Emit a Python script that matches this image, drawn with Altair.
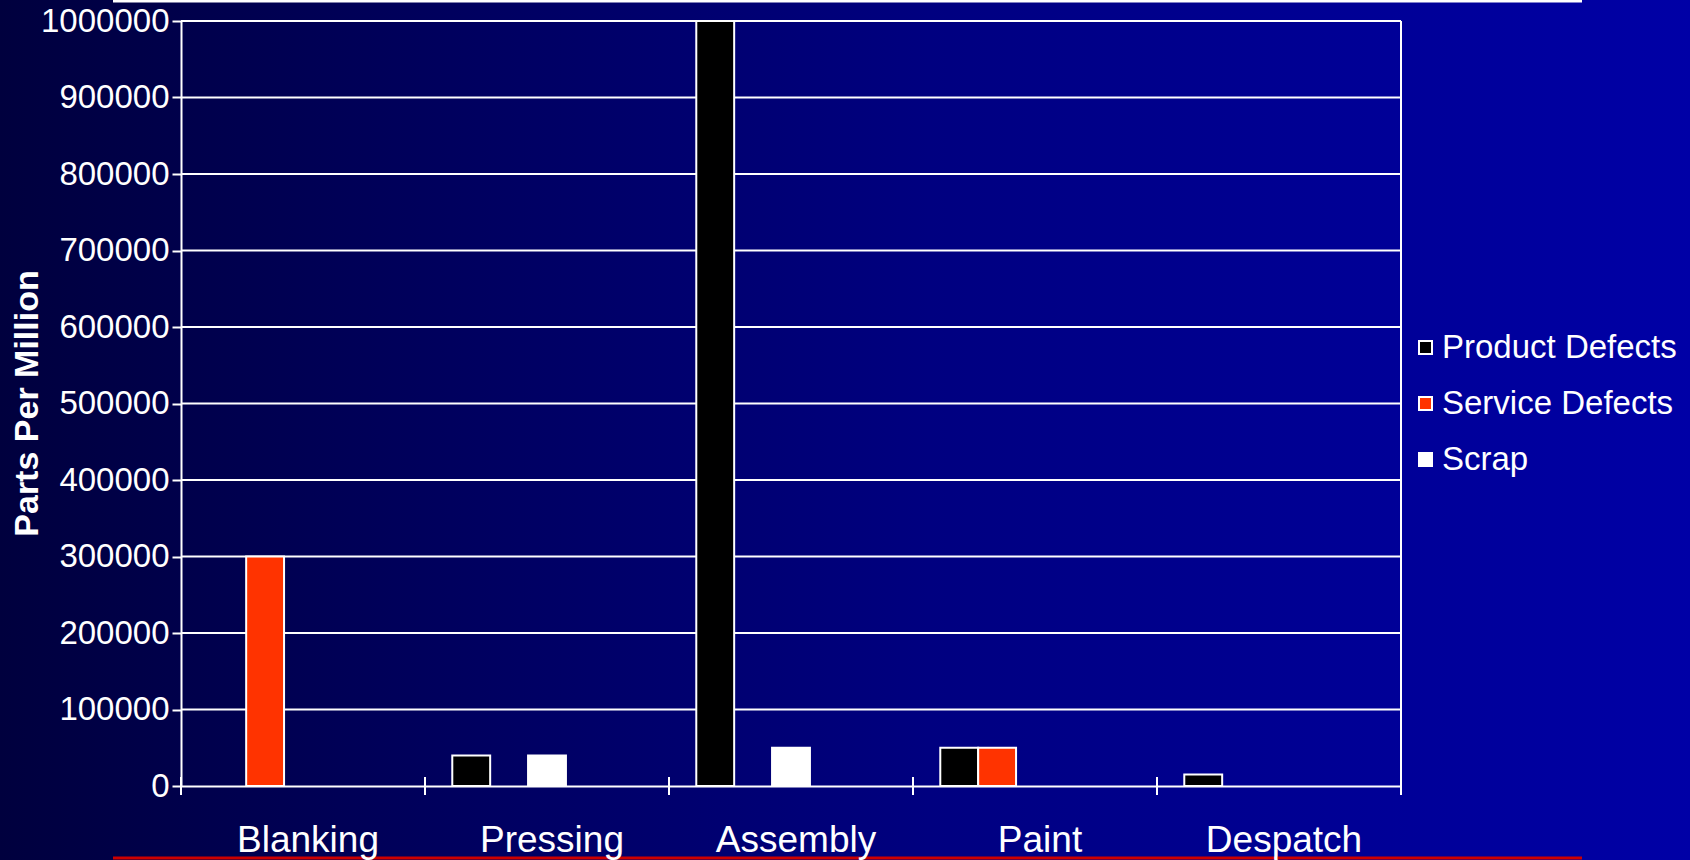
import altair as alt
import pandas as pd

categories = ["Blanking", "Pressing", "Assembly", "Paint", "Despatch"]
series = ["Product Defects", "Service Defects", "Scrap"]
product_defects = [0, 40000, 1000000, 50000, 15000]
service_defects = [300000, 0, 0, 50000, 0]
scrap = [0, 40000, 50000, 0, 0]
y_ticks = [0, 100000, 200000, 300000, 400000, 500000, 600000, 700000, 800000, 900000, 1000000]
colors = ["#000000", "#FF3300", "#FFFFFF"]

rows = []
for i, c in enumerate(categories):
    for s, vals in zip(series, [product_defects, service_defects, scrap]):
        if vals[i] > 0:
            rows.append({"cat": c, "series": s, "value": vals[i]})
df = pd.DataFrame(rows)

W, H = 1220, 765
FONT = "Liberation Sans"
YTITLE = "Parts Per Million"

xscale = alt.Scale(domain=categories, paddingInner=0, paddingOuter=0)
yscale = alt.Scale(domain=[0, 1000000], nice=False)

one = pd.DataFrame({"a": [0]})

gradient = alt.LinearGradient(
    gradient="linear",
    stops=[alt.GradientStop(color="#00003E", offset=0),
           alt.GradientStop(color="#000080", offset=0.55),
           alt.GradientStop(color="#0000A6", offset=1)],
    x1=0, x2=1, y1=0, y2=0)

bg = alt.Chart(one).mark_rect(fill=gradient).encode(
    x=alt.value(-181), x2=alt.value(1509), y=alt.value(-21), y2=alt.value(839))

grid = alt.Chart(pd.DataFrame({"v": y_ticks[1:]})).mark_rule(color="white", strokeWidth=2).encode(
    y=alt.Y("v:Q", scale=yscale, title=YTITLE))

bars = alt.Chart(df).mark_bar(stroke="white", strokeWidth=2).encode(
    x=alt.X("cat:N", scale=xscale, sort=categories, title=None,
            axis=alt.Axis(labelFontSize=37, labelAngle=0, ticks=False, domainColor="white",
                          domainWidth=2, labelColor="white", labelPadding=36, zindex=1,
                          labelFont=FONT, labelOffset=5)),
    xOffset=alt.XOffset("series:N",
                        scale=alt.Scale(domain=series + ["_p1", "_p2"], paddingInner=0, paddingOuter=0.72)),
    y=alt.Y("value:Q", scale=yscale,
            axis=alt.Axis(values=y_ticks, format="d", labelFontSize=33, labelColor="white",
                          tickColor="white", tickSize=9, tickWidth=2, domainColor="white",
                          domainWidth=2, grid=False, zindex=1, labelPadding=3, labelFont=FONT,
                          title=YTITLE, titleFontSize=34, titleFontWeight="bold",
                          titleColor="white", titleX=-154, titleY=382, titleAngle=270,
                          titleAlign="center", titleBaseline="middle", titleFont=FONT)),
    color=alt.Color("series:N", scale=alt.Scale(domain=series, range=colors),
                    legend=alt.Legend(title=None, orient="none", legendX=1228, legendY=310,
                                      labelFontSize=33, labelColor="white", labelFont=FONT,
                                      labelLimit=0,
                                      symbolType="square", symbolSize=169,
                                      symbolStrokeColor="white", symbolStrokeWidth=2,
                                      rowPadding=22, labelOffset=0)),
)

xticks = alt.Chart(pd.DataFrame({"cat": categories})).mark_rule(color="white", strokeWidth=2).encode(
    x=alt.X("cat:N", scale=xscale, sort=categories, bandPosition=0, title=None),
    y=alt.value(H - 9), y2=alt.value(H + 9))

end_tick = alt.Chart(one).mark_rule(color="white", strokeWidth=2).encode(
    x=alt.value(W), y=alt.value(H - 9), y2=alt.value(H + 9))

border = alt.Chart(one).mark_rule(color="white", strokeWidth=2).encode(
    x=alt.value(W), y=alt.value(0), y2=alt.value(H))

top_line = alt.Chart(one).mark_rule(color="white", strokeWidth=3).encode(
    x=alt.value(-68), x2=alt.value(1401), y=alt.value(-20))

bottom_line = alt.Chart(one).mark_rule(color="#CC0000", strokeWidth=3).encode(
    x=alt.value(-68), x2=alt.value(1401), y=alt.value(837))

chart = alt.layer(bg, grid, bars, xticks, end_tick, border, top_line, bottom_line).properties(
    width=W, height=H,
    autosize=alt.AutoSizeParams(type="none"),
    padding={"left": 181, "top": 21, "right": 289, "bottom": 74},
    background="#00004A",
).configure_view(stroke=None).configure(font=FONT)

chart.save("out.html", embed_options={"renderer": "svg", "actions": False})
